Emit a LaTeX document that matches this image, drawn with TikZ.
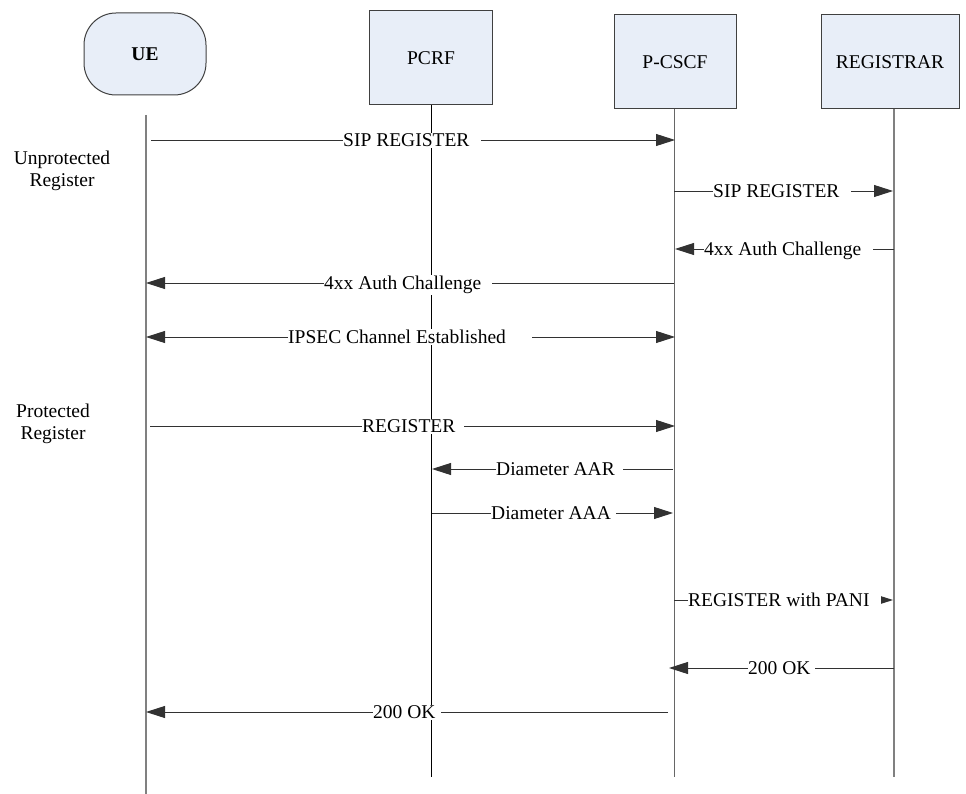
\documentclass[tikz,border=0pt]{standalone}
\usepackage{fontspec}
\setmainfont{Liberation Serif}
\usetikzlibrary{arrows.meta}
\definecolor{boxblue}{RGB}{232,238,248}
\definecolor{boxline}{RGB}{64,64,64}
\definecolor{lifegray}{RGB}{128,128,128}
\definecolor{msggray}{RGB}{50,50,50}
\begin{document}
\begin{tikzpicture}[x=1pt,y=-1pt,
  every node/.style={font=\fontsize{19.5}{22.5}\selectfont},
  actorbox/.style={draw=boxline, line width=1pt, fill=boxblue, minimum height=94pt, inner sep=0pt},
  lifeln/.style={line width=1pt},
  msg/.style={draw=msggray, line width=0.9pt},
  tipend/.style={-{Triangle[length=19pt,width=12pt]}},
  tipboth/.style={{Triangle[length=19pt,width=12pt]}-{Triangle[length=19pt,width=12pt]}},
  tipsmall/.style={-{Triangle[length=13pt,width=8pt]}},
  lbl/.style={fill=white, inner xsep=0pt, inner ysep=1pt, anchor=base west},
  side/.style={align=center}
]
\useasboundingbox (0,0) rectangle (966,794);

% actors
\node[actorbox, rounded corners=32pt, minimum width=122pt, minimum height=82pt] (ue) at (145,54) {\textbf{UE}};
\node[actorbox, minimum width=123pt] (pcrf) at (431,58) {PCRF};
\node[actorbox, minimum width=122pt] (pcscf) at (675,62) {P-CSCF};
\node[actorbox, minimum width=138pt] (reg) at (890,62) {REGISTRAR};

% lifelines
\coordinate (ueT) at (146,115);   \coordinate (ueB) at (146,794);
\coordinate (pcT) at (431,105);   \coordinate (pcB) at (431,777);
\coordinate (psT) at (674,109);   \coordinate (psB) at (674,777);
\coordinate (rgT) at (894,109);   \coordinate (rgB) at (894,777);
\draw[lifeln, draw=lifegray, line width=1.8pt] (ueT) -- (ueB);
\draw[lifeln, draw=black] (pcT) -- (pcB);
\draw[lifeln, draw=lifegray!80!black] (psT) -- (psB);
\draw[lifeln, draw=lifegray, line width=1.4pt] (rgT) -- (rgB);

% side labels
\node[side] (unprot) at (62,171) {Unprotected\\Register};
\node[side] (prot) at (53,424) {Protected\\Register};

% messages
\coordinate (m1a) at (151,140); \coordinate (m1b) at (675,140);
\draw[msg,tipend] (m1a) -- (m1b);
\coordinate (m2a) at (674,191); \coordinate (m2b) at (893,191);
\draw[msg,tipend] (m2a) -- (m2b);
\coordinate (m3a) at (894,249); \coordinate (m3b) at (675,249);
\draw[msg,tipend] (m3a) -- (m3b);
\coordinate (m4a) at (674,283); \coordinate (m4b) at (146,283);
\draw[msg,tipend] (m4a) -- (m4b);
\coordinate (m5a) at (146,337); \coordinate (m5b) at (675,337);
\draw[msg,tipboth] (m5a) -- (m5b);
\coordinate (m6a) at (150,426); \coordinate (m6b) at (675,426);
\draw[msg,tipend] (m6a) -- (m6b);
\coordinate (m7a) at (673,469); \coordinate (m7b) at (432,469);
\draw[msg,tipend] (m7a) -- (m7b);
\coordinate (m8a) at (432,513); \coordinate (m8b) at (673,513);
\draw[msg,tipend] (m8a) -- (m8b);
\coordinate (m9a) at (674,600); \coordinate (m9b) at (893,600);
\draw[msg,tipsmall] (m9a) -- (m9b);
\coordinate (m10a) at (894,668); \coordinate (m10b) at (669,668);
\draw[msg,tipend] (m10a) -- (m10b);
\coordinate (m11a) at (668,712); \coordinate (m11b) at (146,712);
\draw[msg,tipend] (m11a) -- (m11b);

% message labels
\node[lbl] (l1) at (343,146.5) {SIP REGISTER\kern12pt};
\node[lbl] (l2) at (713,197.5) {SIP REGISTER\kern12pt};
\node[lbl] (l3) at (704,255.5) {4xx Auth Challenge\kern12pt};
\node[lbl] (l4) at (324,289.5) {4xx Auth Challenge\kern11pt};
\node[lbl] (l5) at (288,343.5) {IPSEC Channel Established\kern26pt};
\node[lbl] (l6) at (362,432.5) {REGISTER\kern9pt};
\node[lbl] (l7) at (496,475.5) {Diameter AAR\kern8pt};
\node[lbl] (l8) at (491,519.5) {Diameter AAA\kern5pt};
\node[lbl] (l9) at (688,606.5) {REGISTER with PANI\kern11pt};
\node[lbl] (l10) at (748,674.5) {200 OK\kern4pt};
\node[lbl] (l11) at (373,718.5) {200 OK\kern6pt};
\end{tikzpicture}
\end{document}
